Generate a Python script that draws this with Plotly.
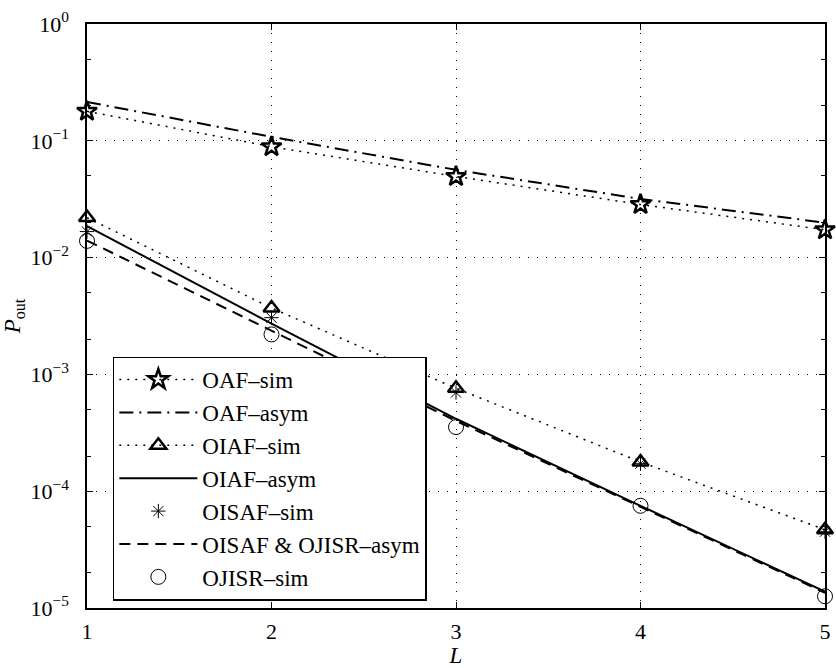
import plotly.graph_objects as go

# ---- data ----
L = [1, 2, 3, 4, 5]
OAF_sim = [0.179, 0.089, 0.0495, 0.0285, 0.0173]
OAF_asym = [0.215, 0.108, 0.0564, 0.0318, 0.0199]
OIAF_sim = [0.022, 0.0037, 0.00076, 0.000178, 0.0000468]
OIAF_asym = [0.0186, 0.00272, 0.000417, 0.000075, 0.0000138]
OISAF_sim = [0.0167, 0.00306, 0.00070, 0.000172, 0.0000450]
OISAF_OJISR_asym = [0.0140, 0.00235, 0.000400, 0.0000735, 0.0000135]
OJISR_sim = [0.0139, 0.0022, 0.000354, 0.000075, 0.0000126]

y_tickvals = [1e-5, 1e-4, 1e-3, 1e-2, 1e-1, 1e0]
y_ticktext = ["10<sup>\u22125</sup>", "10<sup>\u22124</sup>", "10<sup>\u22123</sup>",
              "10<sup>\u22122</sup>", "10<sup>\u22121</sup>", "10<sup>0</sup>"]

FONT = "Liberation Serif, Times New Roman, serif"
BLK = "black"

fig = go.Figure()

fig.add_trace(go.Scatter(
    x=L, y=OAF_sim, name="OAF\u2013sim", mode="lines+markers",
    line=dict(color=BLK, width=1.5, dash="2px,6px"),
    marker=dict(symbol="star-open", size=15, color=BLK, line=dict(width=2.5, color=BLK)),
    cliponaxis=False))
fig.add_trace(go.Scatter(
    x=L, y=OAF_asym, name="OAF\u2013asym", mode="lines",
    line=dict(color=BLK, width=2, dash="14px,6px,2px,6px"),
    cliponaxis=False))
fig.add_trace(go.Scatter(
    x=L, y=OIAF_sim, name="OIAF\u2013sim", mode="lines+markers",
    line=dict(color=BLK, width=1.5, dash="2px,6px"),
    marker=dict(symbol="triangle-up-open", size=14, color=BLK, line=dict(width=2.5, color=BLK)),
    cliponaxis=False))
fig.add_trace(go.Scatter(
    x=L, y=OIAF_asym, name="OIAF\u2013asym", mode="lines",
    line=dict(color=BLK, width=2),
    cliponaxis=False))
fig.add_trace(go.Scatter(
    x=L, y=OISAF_sim, name="OISAF\u2013sim", mode="markers",
    marker=dict(symbol="asterisk-open", size=12, color=BLK, line=dict(width=1, color=BLK)),
    cliponaxis=False))
fig.add_trace(go.Scatter(
    x=L, y=OISAF_OJISR_asym, name="OISAF & OJISR\u2013asym", mode="lines",
    line=dict(color=BLK, width=2, dash="11px,7px"),
    cliponaxis=False))
fig.add_trace(go.Scatter(
    x=L, y=OJISR_sim, name="OJISR\u2013sim", mode="markers",
    marker=dict(symbol="circle-open", size=15, color=BLK, line=dict(width=1, color=BLK)),
    cliponaxis=False))

axis_common = dict(
    showline=True, linecolor=BLK, linewidth=1.5, mirror="allticks",
    ticks="inside", tickcolor=BLK, ticklen=6, tickwidth=1,
    showgrid=True, gridcolor=BLK, gridwidth=1, griddash="1px,8px",
    zeroline=False,
    tickfont=dict(family=FONT, size=22, color=BLK),
)

fig.update_xaxes(
    **axis_common,
    range=[1, 5], tickvals=L, ticktext=[str(v) for v in L],
    ticklabelstandoff=3,
    title=dict(text="<i>L</i>", font=dict(family=FONT, size=23, color=BLK), standoff=3),
)
fig.update_yaxes(
    **axis_common,
    type="log", range=[-5, 0], tickvals=y_tickvals, ticktext=y_ticktext,
    ticklabelstandoff=12,
    minor=dict(ticks="inside", ticklen=4, tickcolor=BLK, showgrid=False),
    title=dict(text="<i>P</i><sub>out</sub>", font=dict(family=FONT, size=23, color=BLK), standoff=6),
)

fig.update_layout(
    width=836, height=668,
    margin=dict(l=87, r=5, t=24, b=56),
    paper_bgcolor="white", plot_bgcolor="white",
    font=dict(family=FONT, size=23, color=BLK),
    showlegend=True,
    legend=dict(
        x=0.035, y=0.4306, xanchor="left", yanchor="top",
        bgcolor="white", bordercolor=BLK, borderwidth=1.5,
        font=dict(family=FONT, size=23, color=BLK),
        tracegroupgap=0, itemwidth=78,
    ),
)

fig.write_html("out.html")
